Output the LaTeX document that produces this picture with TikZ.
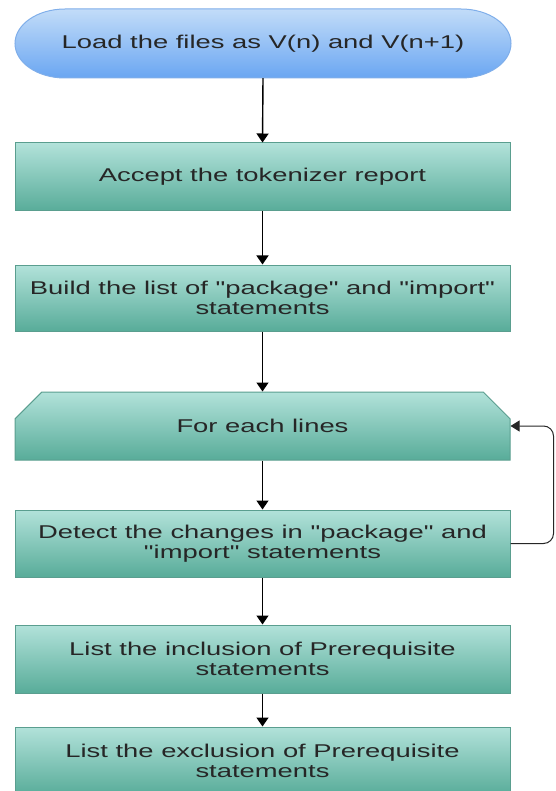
\documentclass[tikz,border=0pt]{standalone}
\usepackage{fontspec}
\setmainfont{Liberation Sans}[FakeStretch=1.48, Ligatures=TeXOff]
\usetikzlibrary{shapes.misc,arrows.meta}

\definecolor{tealtop}{HTML}{B2E2DA}
\definecolor{tealbot}{HTML}{58AC99}
\definecolor{tealedge}{HTML}{5A9E8F}
\definecolor{bluetop}{HTML}{C2DCF8}
\definecolor{bluebot}{HTML}{6AA6F2}
\definecolor{blueedge}{HTML}{7FAEEA}
\definecolor{txt}{HTML}{262626}

\tikzset{
  label text/.style={text=txt, font=\fontsize{18.5}{20}\selectfont, align=center, inner sep=0pt},
  stepbox/.style={label text, rectangle, draw=tealedge, line width=1pt,
    top color=tealtop, bottom color=tealbot,
    minimum width=495pt, minimum height=68pt},
  loopbox/.style={stepbox, chamfered rectangle,
    chamfered rectangle corners={north west, north east},
    chamfered rectangle xsep=29pt, chamfered rectangle ysep=20pt},
  terminal/.style={draw=blueedge, line width=1pt, top color=bluetop, bottom color=bluebot},
  flow/.style={-{Triangle[length=9pt,width=12pt]}, line width=1.4pt, black},
  backflow/.style={-{Triangle[length=9pt,width=11pt]}, line width=1pt, black!85, rounded corners=10pt},
}

\begin{document}
\begin{tikzpicture}[x=1pt,y=-1pt]
\useasboundingbox (0,0) rectangle (555,791);
\clip (0,0) rectangle (555,791);

% start terminal: a capsule with elliptic ends
\path[terminal] (65,9) -- (461,9)
  arc[start angle=90, end angle=-90, x radius=50pt, y radius=34.5pt]
  -- (65,78)
  arc[start angle=270, end angle=90, x radius=50pt, y radius=34.5pt] -- cycle;
\node[label text, minimum width=496pt, minimum height=69pt] (load) at (263,43.5)
  {Load the files as V(n) and V(n+1)};

% process steps
\node[stepbox] (accept) at (262.5,177) {Accept the tokenizer report};
\node[stepbox, minimum height=66pt] (build) at (262.5,298)
  {Build the list of "package" and "import"\\statements};
\node[loopbox] (each) at (262.5,426) {For each lines};
\node[stepbox, minimum height=67pt] (detect) at (262.5,543.5)
  {Detect the changes in "package" and\\"import" statements};
\node[stepbox] (incl) at (262.5,659) {List the inclusion of Prerequisite\\statements};
\node[stepbox] (excl) at (262.5,761) {List the exclusion of Prerequisite\\statements};

% connectors
\draw[flow] (load.south) -- (accept.north);
\draw[flow] (accept.south) -- (build.north);
\draw[flow] (build.south) -- (each.north);
\draw[flow] (each.south) -- (detect.north);
\draw[flow] (detect.south) -- (incl.north);
\draw[flow] (incl.south) -- (excl.north);
\draw[backflow] (detect.east) -- ++(43,0) |- (each.east);
\end{tikzpicture}
\end{document}
